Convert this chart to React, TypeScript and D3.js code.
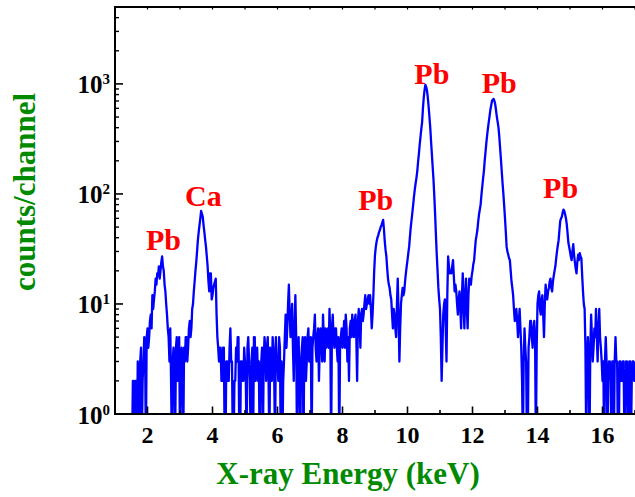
import React from "react";
import * as d3 from "d3";

// Channel calibration (keV) of the spectrum
const E_START = 1.5;
const E_STEP = 0.025;

// counts per channel (rows of 1 keV starting 1.500, 2.500, ...)
const counts: number[] = [
  0, 0, 2, 2, 0, 2, 2, 0, 3, 2, 0, 3, 4, 0, 2, 3, 5, 4, 0, 5,
  6, 4, 5, 7, 8, 6, 12, 9, 11, 13, 17, 15, 19, 18, 22, 17, 20, 24, 27, 22,

  20, 15, 13, 10, 8, 6, 5, 3, 6, 2, 0, 3, 4, 2, 0, 4, 5, 2, 3, 5,
  0, 3, 4, 2, 0, 4, 3, 5, 5, 3, 4, 6, 7, 5, 6, 9, 10, 13, 16, 20,

  24, 30, 38, 45, 52, 60, 70, 66, 62, 52, 45, 38, 33, 27, 22, 16, 13, 19, 19, 11,
  12, 14, 15, 16, 17, 8, 5, 4, 3, 4, 4, 2, 2, 4, 4, 0, 0, 3, 3, 2,

  2, 4, 6, 3, 3, 0, 0, 2, 2, 4, 3, 5, 5, 0, 0, 3, 3, 2, 2, 4,
  3, 2, 0, 4, 5, 3, 2, 0, 3, 4, 0, 5, 5, 2, 3, 4, 2, 3, 0, 2,

  3, 4, 0, 3, 5, 4, 2, 4, 5, 2, 0, 4, 3, 2, 5, 4, 2, 0, 5, 3,
  3, 2, 5, 4, 0, 3, 0, 2, 3, 5, 8, 4, 6, 10, 15, 8, 5, 7, 10, 4,

  2, 6, 12, 5, 0, 3, 5, 2, 0, 3, 4, 5, 0, 4, 5, 2, 3, 5, 6, 3,
  4, 5, 0, 4, 5, 6, 8, 4, 3, 5, 6, 2, 4, 6, 5, 3, 8, 5, 3, 6,

  4, 5, 6, 4, 9, 5, 0, 6, 8, 5, 4, 6, 6, 4, 3, 5, 0, 4, 5, 6,
  4, 5, 7, 4, 8, 6, 3, 5, 2, 6, 7, 5, 8, 6, 5, 7, 8, 5, 2, 7,

  9, 7, 4, 8, 9, 7, 8, 10, 12, 9, 10, 11, 12, 10, 12, 9, 6, 8, 12, 20,
  28, 33, 37, 40, 42, 45, 47, 50, 52, 55, 58, 48, 37, 31, 27, 21, 17, 15, 14, 12,

  11, 8, 6, 9, 8, 6, 5, 10, 17, 8, 3, 6, 10, 12, 14, 12, 13, 16, 19, 22,
  25, 29, 33, 41, 50, 58, 68, 80, 95, 110, 125, 140, 160, 195, 230, 280, 330, 390, 450, 600,

  750, 880, 980, 940, 870, 750, 620, 500, 400, 300, 230, 175, 135, 95, 65, 42, 28, 20, 14, 11,
  9, 5, 2, 4, 8, 10, 11, 6, 3, 12, 27, 22, 19, 20, 19, 22, 25, 18, 13, 15,

  13, 10, 8, 11, 13, 9, 6, 12, 19, 10, 6, 12, 17, 9, 6, 12, 17, 16, 15, 18,
  20, 23, 25, 31, 38, 42, 47, 56, 65, 72, 80, 98, 116, 138, 160, 200, 240, 290, 340, 395,

  450, 510, 580, 640, 700, 720, 730, 700, 650, 570, 500, 450, 400, 330, 260, 205, 160, 125, 100, 78,
  60, 45, 33, 30, 28, 26, 25, 20, 16, 14, 12, 9, 7, 8, 9, 7, 5, 7, 9, 6,

  4, 2, 0, 3, 6, 4, 3, 0, 0, 4, 5, 7, 7, 5, 4, 6, 7, 5, 0, 4,
  10, 12, 13, 9, 8, 11, 12, 8, 5, 10, 15, 12, 11, 13, 14, 16, 17, 14, 13, 16,

  18, 20, 22, 26, 30, 34, 38, 47, 57, 60, 62, 68, 72, 70, 65, 60, 53, 44, 36, 33,
  30, 27, 25, 30, 35, 28, 24, 21, 19, 24, 28, 25, 29, 27, 26, 18, 13, 10, 9, 4,

  0, 3, 5, 3, 0, 4, 8, 5, 3, 4, 6, 5, 9, 5, 3, 6, 9, 5, 4, 3,
  2, 3, 0, 3, 5, 3, 0, 2, 3, 3, 2, 0, 3, 3, 0, 3, 5, 3, 3, 0,

  0, 3, 3, 2, 2, 3, 3, 0, 0, 3, 3, 2, 0, 3, 3, 0, 2, 3, 3, 2, 3,
];

const xTicksMajor = [2, 4, 6, 8, 10, 12, 14, 16];
const xTicksMinor = [1, 3, 5, 7, 9, 11, 13, 15, 17];
const yDecades = [0, 1, 2, 3];

const peakLabels = ["Pb", "Ca", "Pb", "Pb", "Pb", "Pb"];
const peakLabelEnergy = [2.49, 3.72, 9.02, 10.75, 12.82, 14.71];
const peakLabelCounts = [31, 77, 72, 1007, 834, 92];

const xTitle = "X-ray Energy (keV)";
const yTitle = "counts/channel";

const W = 635;
const H = 497;
const L = 115;
const R = 635;
const T = 7;
const B = 414;

export default function App() {
  const x = d3.scaleLinear().domain([1, 17]).range([L, R]);
  const y = d3.scaleLog().domain([1, 5000]).range([B, T]);

  const data = counts.map((c, i) => ({ e: E_START + i * E_STEP, c }));
  const line = d3
    .line<{ e: number; c: number }>()
    .x((d) => x(d.e))
    .y((d) => (d.c > 0 ? y(d.c) : y(0.5)));

  const minorY: number[] = [];
  for (let dec = 0; dec <= 3; dec++) {
    for (let m = 2; m <= 9; m++) {
      const v = m * Math.pow(10, dec);
      if (v < 5000) minorY.push(v);
    }
  }

  const font = "'Liberation Serif', 'Times New Roman', serif";
  const green = "#008a00";

  return (
    <svg
      width={W}
      height={H}
      style={{ position: "absolute", left: 0, top: 0, background: "#fff" }}
      fontFamily={font}
    >
      <defs>
        <clipPath id="plotclip">
          <rect x={L} y={T} width={R - L} height={B - T} />
        </clipPath>
      </defs>
      <rect x={0} y={0} width={W} height={H} fill="#fff" />

      {/* spectrum */}
      <path
        d={line(data) || ""}
        fill="none"
        stroke="#0000ff"
        strokeWidth={2.3}
        strokeLinejoin="round"
        clipPath="url(#plotclip)"
      />

      {/* axes frame */}
      <line x1={L} y1={T} x2={L} y2={B} stroke="#000" strokeWidth={2} />
      <line x1={L - 1} y1={B} x2={R} y2={B} stroke="#000" strokeWidth={2} />
      <line x1={L - 1} y1={T} x2={R} y2={T} stroke="#000" strokeWidth={2} />

      {/* x ticks */}
      {xTicksMajor.map((t) => (
        <g key={"xM" + t}>
          <line x1={x(t)} x2={x(t)} y1={B} y2={B - 7.5} stroke="#000" strokeWidth={1.6} />
          <line x1={x(t)} x2={x(t)} y1={T} y2={T + 2.5} stroke="#000" strokeWidth={1.2} />
          <text
            x={x(t)}
            y={B + 29}
            textAnchor="middle"
            fontSize={24}
            fontWeight="bold"
            fill="#000"
          >
            {t}
          </text>
        </g>
      ))}
      {xTicksMinor.map((t) => (
        <g key={"xm" + t}>
          <line x1={x(t)} x2={x(t)} y1={B} y2={B - 4} stroke="#000" strokeWidth={1.6} />
          <line x1={x(t)} x2={x(t)} y1={T} y2={T + 2.5} stroke="#000" strokeWidth={1.2} />
        </g>
      ))}

      {/* y ticks */}
      {yDecades.map((d) => {
        const yy = y(Math.pow(10, d));
        return (
          <g key={"yM" + d}>
            <line x1={L} x2={L + 8} y1={yy} y2={yy} stroke="#000" strokeWidth={1.6} />
            <text
              x={110}
              y={yy + 9.5}
              textAnchor="end"
              fontSize={25}
              fontWeight="bold"
              fill="#000"
            >
              10
              <tspan fontSize={15} dy={-9}>
                {d}
              </tspan>
            </text>
          </g>
        );
      })}
      {minorY.map((v) => (
        <line
          key={"ym" + v}
          x1={L}
          x2={L + 4}
          y1={y(v)}
          y2={y(v)}
          stroke="#000"
          strokeWidth={1.4}
        />
      ))}

      {/* peak labels */}
      {peakLabels.map((lab, i) => (
        <text
          key={"pl" + i}
          x={x(peakLabelEnergy[i])}
          y={y(peakLabelCounts[i])}
          textAnchor="middle"
          fontSize={30}
          fontWeight="bold"
          fill="#ff0000"
        >
          {lab}
        </text>
      ))}

      {/* axis titles */}
      <text
        x={348}
        y={484}
        textAnchor="middle"
        fontSize={31}
        fontWeight="bold"
        fill={green}
      >
        {xTitle}
      </text>
      <text
        transform="translate(35,192) rotate(-90)"
        textAnchor="middle"
        fontSize={31}
        fontWeight="bold"
        fill={green}
      >
        {yTitle}
      </text>
    </svg>
  );
}
